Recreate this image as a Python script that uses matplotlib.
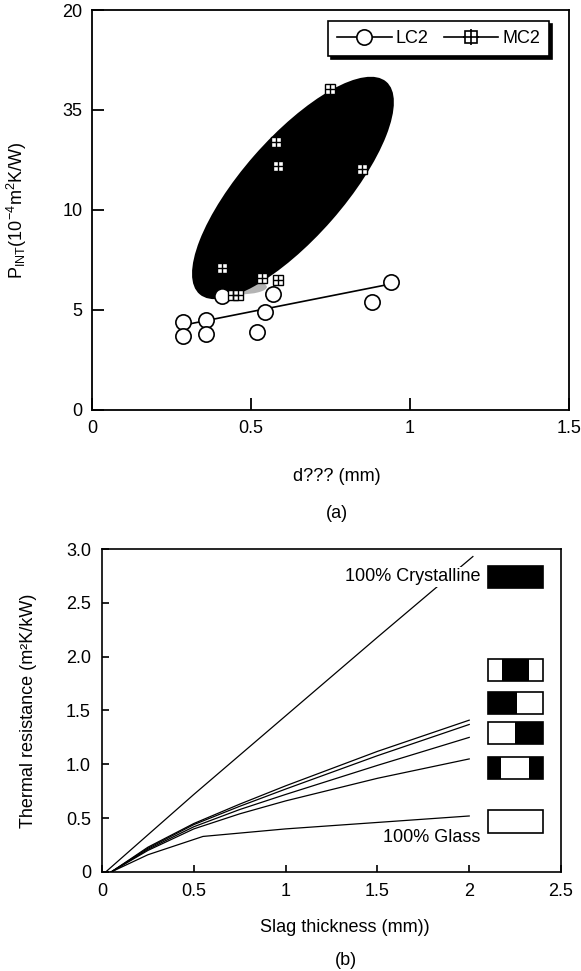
import numpy as np
import matplotlib
matplotlib.use("Agg")
import matplotlib.pyplot as plt
from matplotlib.patches import Ellipse, Rectangle
from matplotlib.transforms import Affine2D
from matplotlib.lines import Line2D
from matplotlib.legend_handler import HandlerTuple

plt.rcParams["font.family"] = ["Liberation Sans", "DejaVu Sans"]
plt.rcParams["font.size"] = 13
plt.rcParams["mathtext.fontset"] = "custom"
plt.rcParams["mathtext.rm"] = "Liberation Sans"
plt.rcParams["mathtext.it"] = "Liberation Sans:italic"

# (a) interfacial resistance vs thickness
lc2_x = [0.285, 0.285, 0.36, 0.36, 0.41, 0.52, 0.545, 0.57, 0.88, 0.94]
lc2_y = [4.4, 3.7, 4.5, 3.8, 5.7, 3.9, 4.9, 5.8, 5.4, 6.4]
lc2_fit_x = [0.29, 0.94]
lc2_fit_y = [4.25, 6.3]
mc2_x = [0.41, 0.445, 0.46, 0.535, 0.585, 0.58, 0.585, 0.75, 0.85]
mc2_y = [7.1, 5.75, 5.75, 6.6, 6.5, 13.4, 12.2, 16.05, 12.05]
top_xticks = [0, 0.5, 1, 1.5]
top_xlabels = ["0", "0.5", "1", "1.5"]
top_yticks = [0, 5, 10, 15, 20]
top_ylabels = ["0", "5", "10", "35", "20"]

# (b) thermal resistance vs slag thickness
cryst_x = [0.02, 0.5, 1.0, 1.5, 2.02]
cryst_y = [0.0, 0.72, 1.45, 2.18, 2.93]
mix_x = [0.05, 0.25, 0.5, 0.75, 1.0, 1.5, 2.0]
mix_a = [0.0, 0.23, 0.45, 0.63, 0.80, 1.12, 1.41]
mix_b = [0.0, 0.22, 0.44, 0.61, 0.77, 1.08, 1.37]
mix_c = [0.0, 0.21, 0.42, 0.58, 0.72, 0.99, 1.25]
mix_d = [0.0, 0.20, 0.40, 0.54, 0.66, 0.87, 1.05]
glass_x = [0.05, 0.25, 0.55, 1.0, 1.5, 2.0]
glass_y = [0.0, 0.16, 0.33, 0.40, 0.46, 0.52]
bot_xticks = [0, 0.5, 1, 1.5, 2, 2.5]
bot_xlabels = ["0", "0.5", "1", "1.5", "2", "2.5"]
bot_yticks = [0, 0.5, 1.0, 1.5, 2.0, 2.5, 3.0]
bot_ylabels = ["0", "0.5", "1.0", "1.5", "2.0", "2.5", "3.0"]
# black parts of each structure box (fractions of the box width)
box_black = [[(0, 1)], [(0.26, 0.76)], [(0, 0.53)], [(0.5, 1)], [(0, 0.24), (0.76, 1)], []]
box_yc = [2.74, 1.875, 1.57, 1.29, 0.965, 0.47]

fig = plt.figure(figsize=(5.81, 9.71), dpi=100)
ax1 = fig.add_axes([0.1583, 0.5778, 0.821, 0.4119])
ax2 = fig.add_axes([0.1756, 0.1020, 0.79, 0.3326])

# ---- top panel
ax1.set_xlim(0, 1.5)
ax1.set_ylim(0, 20)
ax1.set_xticks(top_xticks)
ax1.set_xticklabels(top_xlabels)
ax1.set_yticks(top_yticks)
ax1.set_yticklabels(top_ylabels)
ax1.tick_params(direction="in", length=8.5, width=1.3, pad=7)
for s in ax1.spines.values():
    s.set_linewidth(1.3)

m = np.array([[0.293, -0.122, 0.632], [5.32, 1.62, 11.1], [0, 0, 1]])
ax1.add_patch(Ellipse((0.46, 6.15), 0.18, 0.75, fc="#b4b4b4", ec="none", zorder=1))
ax1.add_patch(Ellipse((0, 0), 2, 2, transform=Affine2D(m) + ax1.transData,
                      fc="k", ec="none", zorder=1.5))

ax1.plot(lc2_fit_x, lc2_fit_y, "k-", lw=1.2, zorder=2)
ax1.plot(lc2_x, lc2_y, "o", ms=11, mfc="w", mec="k", mew=1.2, ls="none", zorder=3)
ax1.plot(mc2_x, mc2_y, "s", ms=7, mfc="w", mec="k", mew=1, ls="none", zorder=4)
ax1.plot(mc2_x, mc2_y, "+", ms=7, mec="k", mew=1, ls="none", zorder=5)

h1 = Line2D([], [], color="k", lw=1.2, marker="o", ms=11, mfc="w", mec="k", mew=1.2)
h2a = Line2D([], [], color="k", lw=1.2, marker="s", ms=9, mfc="w", mec="k", mew=1.2)
h2b = Line2D([], [], ls="none", marker="+", ms=12, mec="k", mew=1.2)
leg = ax1.legend([h1, (h2a, h2b)], ["LC2", "MC2"],
                 handler_map={tuple: HandlerTuple(ndivide=1)},
                 loc="upper right", bbox_to_anchor=(0.958, 0.9725), borderaxespad=0,
                 ncol=2, fancybox=False, edgecolor="k", framealpha=1,
                 shadow={"color": "k", "alpha": 1}, handlelength=3.0,
                 handletextpad=0.2, columnspacing=0.9, borderpad=0.5)
leg.get_frame().set_linewidth(1.2)

ax1.set_xlabel("d??? (mm)", va="center")
ax1.xaxis.set_label_coords(0.514, -0.1675)
ax1.set_ylabel(r"P$_{\rm INT}$(10$^{-4}$m$^{2}$K/W)", va="center")
ax1.yaxis.set_label_coords(-0.157, 0.5)
fig.text(0.58, 1 - 513 / 971, "(a)", ha="center", va="center")

# ---- bottom panel
ax2.set_xlim(0, 2.5)
ax2.set_ylim(0, 3)
ax2.set_xticks(bot_xticks)
ax2.set_xticklabels(bot_xlabels)
ax2.set_yticks(bot_yticks)
ax2.set_yticklabels(bot_ylabels)
ax2.tick_params(direction="in", length=5, width=1.2, pad=8)
for s in ax2.spines.values():
    s.set_linewidth(1.2)

ax2.plot(cryst_x, cryst_y, "k-", lw=0.9)
for ys in [mix_a, mix_b, mix_c, mix_d]:
    ax2.plot(mix_x, ys, "k-", lw=0.9)
ax2.plot(glass_x, glass_y, "k-", lw=0.9)

ax2.text(2.06, 2.74, "100% Crystalline", ha="right", va="center", zorder=5,
         bbox=dict(fc="w", ec="none", pad=1))
ax2.text(2.06, 0.32, "100% Glass", ha="right", va="center")

bx0, bw, bh = 2.10, 0.30, 0.21
for yc, segs in zip(box_yc, box_black):
    for a, b in segs:
        ax2.add_patch(Rectangle((bx0 + a * bw, yc - bh / 2), (b - a) * bw, bh,
                                fc="k", ec="none", zorder=3))
    ax2.add_patch(Rectangle((bx0, yc - bh / 2), bw, bh, fc="none", ec="k",
                            lw=1.2, zorder=4))
    ax2.add_patch(Rectangle((bx0, yc - bh / 2), bw, bh, fc="w", ec="none", zorder=2))

ax2.set_xlabel("Slag thickness (mm))", va="center")
ax2.xaxis.set_label_coords(0.53, -0.173)
ax2.set_ylabel("Thermal resistance (m\u00b2K/kW)", va="center")
ax2.yaxis.set_label_coords(-0.161, 0.5)
fig.text(0.595, 1 - 960 / 971, "(b)", ha="center", va="center")

fig.savefig("out.png", dpi=100)
